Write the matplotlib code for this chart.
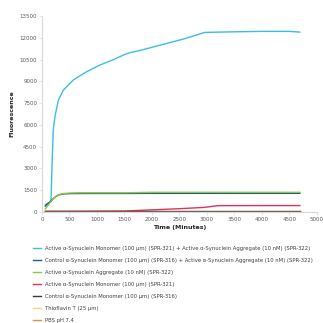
import matplotlib
matplotlib.use("Agg")
import matplotlib.pyplot as plt

# Time points (minutes)
t_cyan = [60, 120, 150, 165, 185, 205, 236, 297, 388, 570, 812, 1054, 1300, 1500, 1600, 1800, 2200, 2600, 2964, 3500, 4000, 4500, 4690]
v_cyan = [500, 620, 700, 900, 3500, 5650, 6570, 7700, 8400, 9100, 9670, 10130, 10500, 10850, 10980, 11150, 11550, 11950, 12380, 12420, 12450, 12450, 12400]

t_common = [60, 100, 150, 200, 250, 300, 400, 500, 750, 1000, 1500, 2000, 2500, 2950, 3200, 4000, 4500, 4690]
v_blue = [400, 550, 700, 900, 1050, 1170, 1240, 1260, 1270, 1270, 1270, 1280, 1280, 1280, 1280, 1280, 1280, 1280]
v_green = [200, 400, 650, 880, 1060, 1190, 1270, 1300, 1320, 1320, 1320, 1350, 1350, 1350, 1350, 1350, 1350, 1350]
v_red = [40, 40, 40, 40, 40, 40, 40, 40, 45, 50, 60, 140, 220, 310, 430, 435, 435, 435]
v_black = [50, 50, 50, 50, 50, 50, 50, 50, 50, 50, 50, 50, 50, 50, 50, 50, 50, 50]
v_tht = [10, 10, 10, 10, 10, 10, 10, 10, 10, 10, 10, 10, 10, 10, 10, 10, 10, 10]
v_pbs = [0, 0, 0, 0, 0, 0, 0, 0, 0, 0, 0, 0, 0, 0, 0, 0, 0, 0]

labels = [
    "Active \u03b1-Synuclein Monomer (100 \u03bcm) (SPR-321) + Active \u03b1-Synuclein Aggregate (10 nM) (SPR-322)",
    "Control \u03b1-Synuclein Monomer (100 \u03bcm) (SPR-316) + Active \u03b1-Synuclein Aggregate (10 nM) (SPR-322)",
    "Active \u03b1-Synuclein Aggregate (10 nM) (SPR-322)",
    "Active \u03b1-Synuclein Monomer (100 \u03bcm) (SPR-321)",
    "Control \u03b1-Synuclein Monomer (100 \u03bcm) (SPR-316)",
    "Thioflavin T (25 \u03bcm)",
    "PBS pH 7.4",
]
colors = ["#3cbde6", "#1f5a8c", "#8dc63f", "#d9345f", "#3b3b3b", "#f7d58a", "#ef8a3e"]

x_ticks = list(range(0, 5001, 500))
y_ticks = list(range(0, 13501, 1500))

fig = plt.figure(figsize=(3.23, 3.23), dpi=100)
ax = fig.add_axes([0.130, 0.344, 0.851, 0.606])

series = [
    (t_cyan, v_cyan), (t_common, v_blue), (t_common, v_green), (t_common, v_red),
    (t_common, v_black), (t_common, v_tht), (t_common, v_pbs),
]
order = [5, 6, 4, 3, 1, 2, 0]
lines = [None] * 7
for i in order:
    x, y = series[i]
    ln, = ax.plot(x, y, color=colors[i], lw=1.0, zorder=3 + i * 0.01)
    lines[i] = ln

ax.set_xlim(0, 5000)
ax.set_ylim(0, 13500)
ax.set_xticks(x_ticks)
ax.set_yticks(y_ticks)
ax.tick_params(labelsize=4, colors="#d9d9d9", labelcolor="#595959", length=2, width=0.5, pad=1.5)
for s in ["top", "right"]:
    ax.spines[s].set_visible(False)
for s in ["left", "bottom"]:
    ax.spines[s].set_color("#d9d9d9")
    ax.spines[s].set_linewidth(0.8)
ax.set_xlabel("Time (Minutes)", fontsize=4.5, fontweight="bold", color="#262626", labelpad=2)
ax.set_ylabel("Fluorescence", fontsize=4.5, fontweight="bold", color="#262626", labelpad=4)

fig.legend(lines, labels, loc="upper left", bbox_to_anchor=(0.095, 0.245), frameon=False,
           fontsize=3.8, labelcolor="#404040", handlelength=1.5, handletextpad=0.75,
           labelspacing=1.32, borderaxespad=0)

fig.savefig("out.png", dpi=100)
